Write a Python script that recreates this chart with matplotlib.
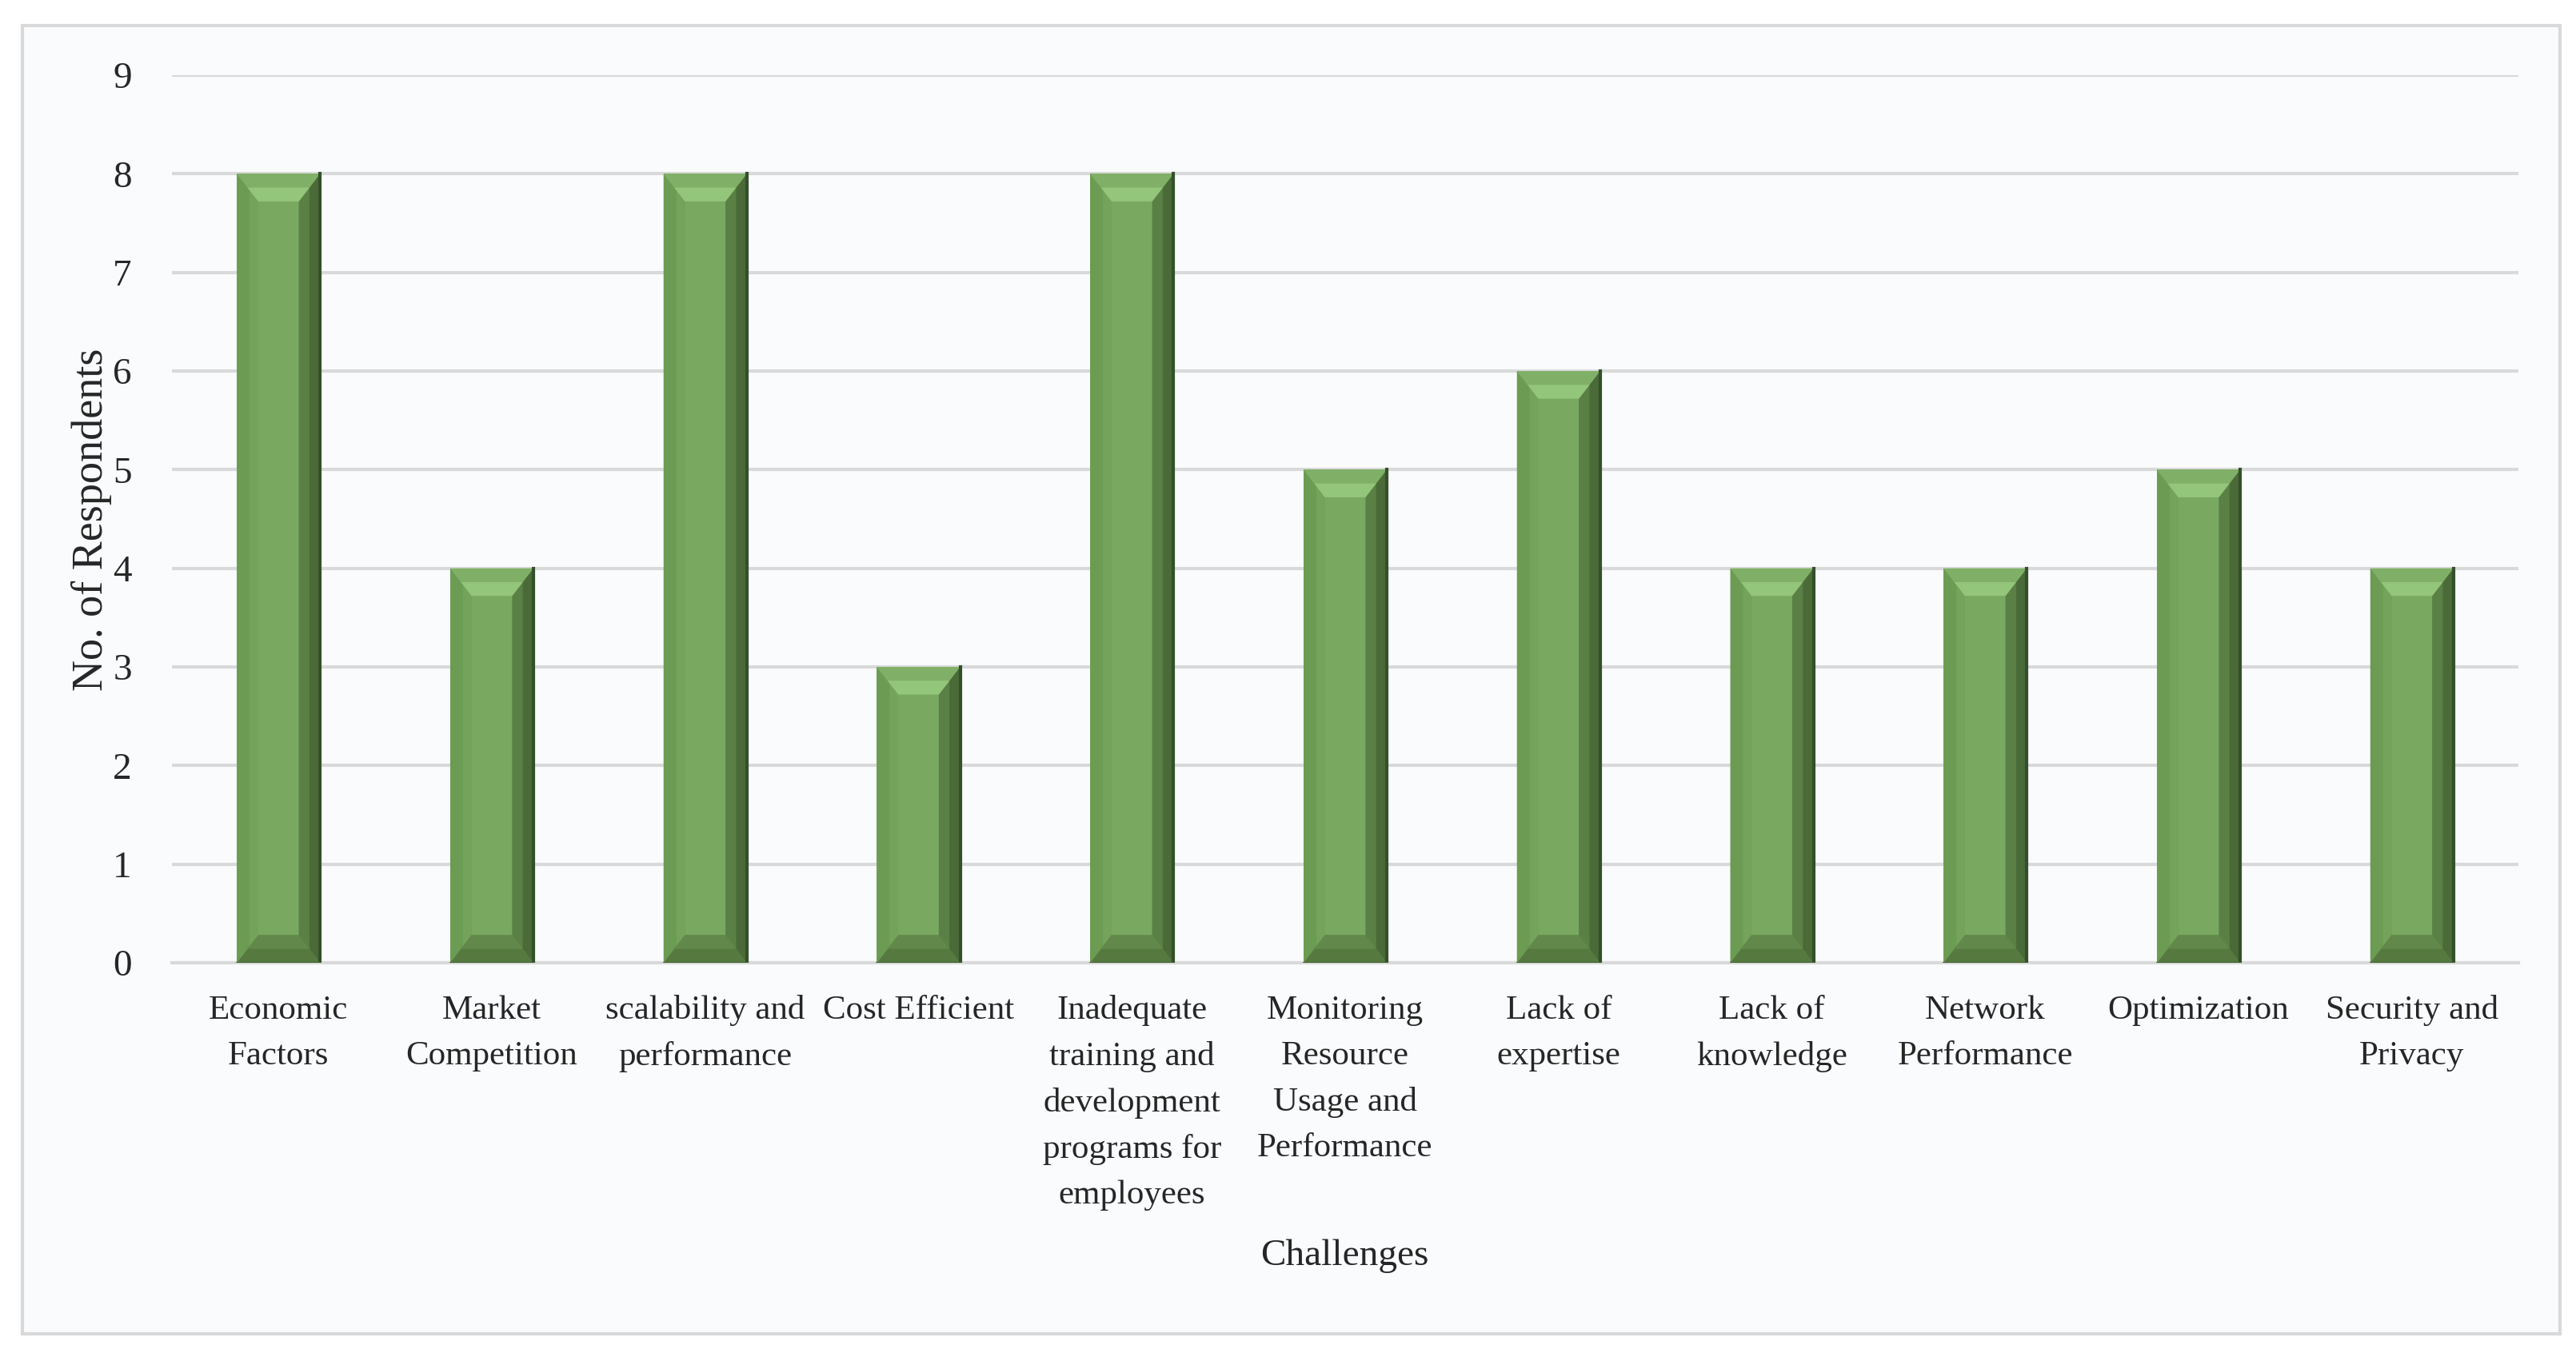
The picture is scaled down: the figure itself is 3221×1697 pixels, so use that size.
import matplotlib
matplotlib.use("Agg")
import matplotlib.pyplot as plt
from matplotlib.patches import Polygon, Rectangle

plt.rcParams['font.family'] = ['Liberation Serif', 'DejaVu Serif']

categories = ["Economic\nFactors", "Market\nCompetition", "scalability and\nperformance",
              "Cost Efficient", "Inadequate\ntraining and\ndevelopment\nprograms for\nemployees",
              "Monitoring\nResource\nUsage and\nPerformance", "Lack of\nexpertise",
              "Lack of\nknowledge", "Network\nPerformance", "Optimization",
              "Security and\nPrivacy"]
respondents = [8, 4, 8, 3, 8, 5, 6, 4, 4, 5, 4]
y_ticks = list(range(0, 10))

bg = "#f9fbfd"
fig = plt.figure(figsize=(32.21, 16.97), dpi=100)
fig.patch.set_facecolor("white")

# outer frame, kept behind the axes
fig.patches.append(Rectangle((0.0087, 0.017), 0.985, 0.964, transform=fig.transFigure,
                             facecolor=bg, edgecolor="#d9d9d9", linewidth=3, zorder=-5))

ax = fig.add_axes([0.0667, 0.2905, 0.911, 0.6541])
ax.set_zorder(2)
ax.patch.set_alpha(0)

xs = list(range(len(categories)))
w = 0.39
bx = 0.1    # bevel width in data units
by = 0.28   # bevel height in data units

ax.bar(xs, respondents, width=w, color="#79a961", edgecolor="none", zorder=3)


def poly(pts, c):
    ax.add_patch(Polygon(pts, closed=True, facecolor=c, edgecolor="none", zorder=4))


for x, v in zip(xs, respondents):
    x0, x1 = x - w / 2, x + w / 2
    # sides
    poly([(x0, 0), (x0 + bx, by), (x0 + bx, v - by), (x0, v)], "#6c9b54")
    poly([(x0 + bx * 0.6, by * 0.6), (x0 + bx, by), (x0 + bx, v - by), (x0 + bx * 0.6, v - by * 0.6)], "#74a45c")
    poly([(x1, 0), (x1 - bx, by), (x1 - bx, v - by), (x1, v)], "#5a8045")
    poly([(x1, 0), (x1 - bx * 0.5, by * 0.5), (x1 - bx * 0.5, v - by * 0.5), (x1, v)], "#4a6b38")
    # bottom
    poly([(x0, 0), (x1, 0), (x1 - bx, by), (x0 + bx, by)], "#55793f")
    poly([(x0 + bx * 0.5, by * 0.5), (x1 - bx * 0.5, by * 0.5), (x1 - bx, by), (x0 + bx, by)], "#62894b")
    # top, lighter towards the inner edge
    poly([(x0, v), (x1, v), (x1 - bx, v - by), (x0 + bx, v - by)], "#80b067")
    poly([(x0 + bx * 0.5, v - by * 0.5), (x1 - bx * 0.5, v - by * 0.5), (x1 - bx, v - by), (x0 + bx, v - by)], "#93c57a")
    ax.plot([x1, x1], [0, v], color="#34502a", linewidth=3, zorder=6)
    ax.plot([x0, x1], [0, 0], color="#3e5c2e", linewidth=2, zorder=6)

ax.set_xlim(-0.5, len(categories) - 0.5)
ax.set_ylim(0, 9)
ax.set_yticks(y_ticks)
ax.set_xticks(xs)
ax.set_xticklabels(categories, fontsize=31, color="#262626", linespacing=1.63)
ax.tick_params(axis='y', labelsize=34, labelcolor="#262626", length=0, pad=36)
ax.tick_params(axis='x', length=0, pad=29)
ax.yaxis.grid(True, color="#d9d9d9", linewidth=3, zorder=0)
ax.set_axisbelow(True)
for s in ["top", "right", "left"]:
    ax.spines[s].set_visible(False)
ax.spines["bottom"].set_color("#d9d9d9")
ax.spines["bottom"].set_linewidth(3)

fig.text(0.0357, 0.617, "No. of Respondents", rotation=90, fontsize=39, color="#262626",
         ha="center", va="center")
fig.text(0.522, 0.0745, "Challenges", fontsize=34, color="#262626", ha="center", va="center")

fig.savefig("out.png", dpi=100, facecolor="white")
